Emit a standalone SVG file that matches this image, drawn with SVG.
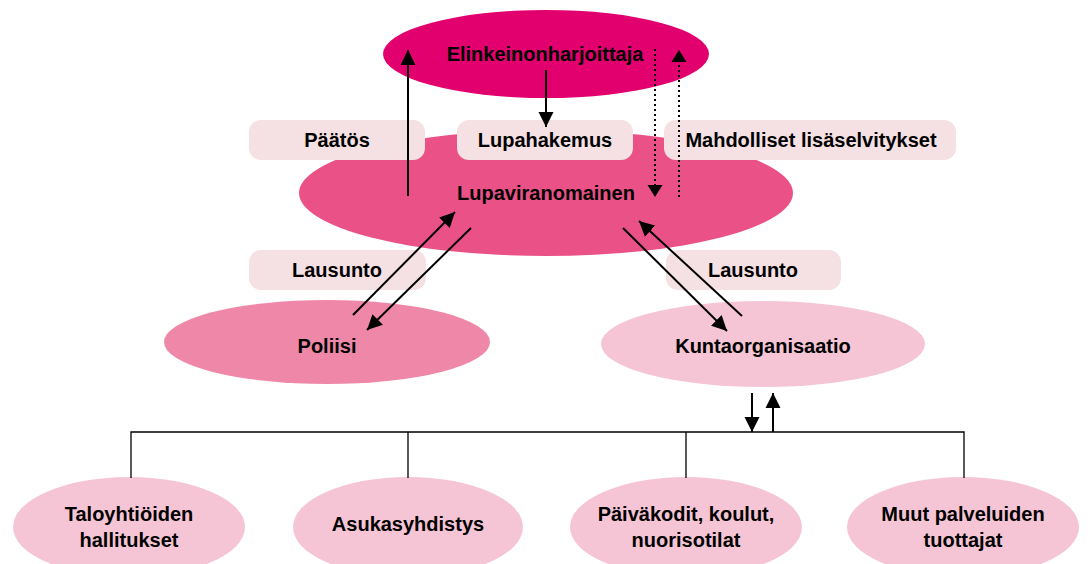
<svg xmlns="http://www.w3.org/2000/svg" width="1088" height="564" viewBox="0 0 1088 564">
<style>
text{font-family:"Liberation Sans","DejaVu Sans",sans-serif;font-weight:bold;font-size:20px;fill:#000;text-anchor:middle}
.box{fill:#F5E1E4}
.ln{stroke:#000;stroke-width:2;fill:none}
.dot{stroke:#000;stroke-width:2;fill:none;stroke-dasharray:2 3}
.tree{stroke:#000;stroke-width:1.3;fill:none}
.lite{fill:#F6C5D5}
</style>
<defs>
<marker id="ah" markerUnits="userSpaceOnUse" markerWidth="16" markerHeight="16" viewBox="0 0 16 16" refX="15" refY="8" orient="auto">
<path d="M0,0.5 L15,8 L0,15.5 Z" fill="#000"/>
</marker>
</defs>
<rect width="1088" height="564" fill="#fff"/>
<g id="lupaviranomainen"><ellipse cx="546" cy="193" rx="247" ry="63" fill="#EA5287"/><text x="546" y="200">Lupaviranomainen</text></g>
<g id="elinkeinonharjoittaja"><ellipse cx="546" cy="54" rx="163" ry="44" fill="#E2006E"/><text x="545" y="61">Elinkeinonharjoittaja</text></g>
<g id="paatos"><rect class="box" x="249" y="120" width="176" height="40" rx="12"/><text x="337" y="147">Päätös</text></g>
<g id="lupahakemus"><rect class="box" x="457" y="120" width="176" height="40" rx="12"/><text x="545" y="147">Lupahakemus</text></g>
<g id="mahdolliset"><rect class="box" x="664" y="120" width="292" height="40" rx="12"/><text x="811" y="147">Mahdolliset lisäselvitykset</text></g>
<g id="lausunto1"><rect class="box" x="249" y="250" width="177" height="40" rx="12"/><text x="337" y="277">Lausunto</text></g>
<g id="lausunto2"><rect class="box" x="666" y="250" width="175" height="40" rx="12"/><text x="753" y="277">Lausunto</text></g>
<g id="poliisi"><ellipse cx="327" cy="342" rx="163" ry="42" fill="#EF88A8"/><text x="327" y="353">Poliisi</text></g>
<g id="kuntaorganisaatio"><ellipse class="lite" cx="763" cy="344" rx="162" ry="43"/><text x="763" y="353">Kuntaorganisaatio</text></g>
<g id="taloyhtiot"><ellipse class="lite" cx="129" cy="527" rx="116" ry="50"/><text x="129" y="521">Taloyhtiöiden</text><text x="129" y="547">hallitukset</text></g>
<g id="asukasyhdistys"><ellipse class="lite" cx="408" cy="527" rx="115" ry="50"/><text x="408" y="531">Asukasyhdistys</text></g>
<g id="paivakodit"><ellipse class="lite" cx="686" cy="527" rx="116" ry="50"/><text x="686" y="521">Päiväkodit, koulut,</text><text x="686" y="547">nuorisotilat</text></g>
<g id="muut"><ellipse class="lite" cx="963" cy="527" rx="116" ry="50"/><text x="963" y="521">Muut palveluiden</text><text x="963" y="547">tuottajat</text></g>
<g id="connectors">
<line class="ln" x1="408" y1="196" x2="408" y2="50" marker-end="url(#ah)"/>
<line class="ln" x1="546" y1="70" x2="546" y2="127" marker-end="url(#ah)"/>
<line class="dot" x1="655" y1="49" x2="655" y2="185"/>
<path d="M647.5,185 L662.5,185 L655,197 Z" fill="#000"/>
<line class="dot" x1="679" y1="197" x2="679" y2="62"/>
<path d="M671.5,62 L686.5,62 L679,50 Z" fill="#000"/>
<line class="ln" x1="353" y1="315" x2="455" y2="212" marker-end="url(#ah)"/>
<line class="ln" x1="471" y1="228" x2="367" y2="330" marker-end="url(#ah)"/>
<line class="ln" x1="623" y1="228" x2="727" y2="331" marker-end="url(#ah)"/>
<line class="ln" x1="742" y1="316" x2="639" y2="221" marker-end="url(#ah)"/>
<line class="ln" x1="752" y1="393" x2="752" y2="432" marker-end="url(#ah)"/>
<line class="ln" x1="773" y1="432" x2="773" y2="393" marker-end="url(#ah)"/>
<path class="tree" d="M131,478 V432 H964 V478 M408,432 V478 M686,432 V478"/>
</g>
</svg>
